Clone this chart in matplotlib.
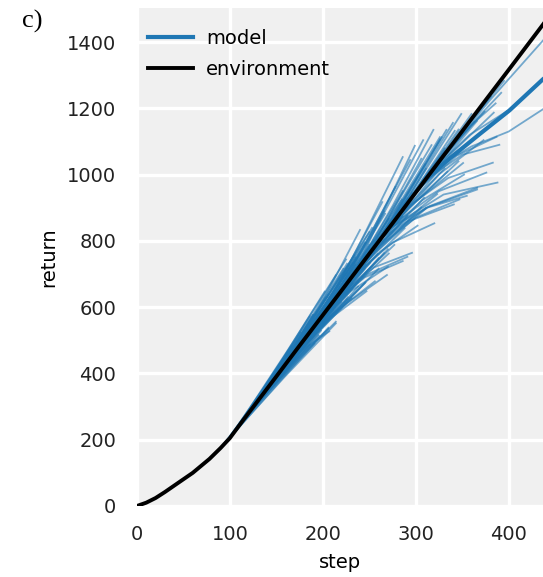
import matplotlib.pyplot as plt

# environment return curve
env_step = [0, 10, 20, 30, 46, 60, 78, 90, 100, 114, 130, 150, 175, 200, 225,
            250, 275, 300, 325, 350, 375, 400, 437, 445]
env_return = [0, 10, 24, 42, 73, 100, 142, 175, 205, 258, 317, 391, 484, 576, 668,
              761, 853, 946, 1039, 1131, 1224, 1316, 1453, 1483]

# model rollouts branching off the environment curve (start, middle, end)
rollout_steps = [
    [90, 120, 150], [94, 134, 174], [98, 133, 168], [102, 147, 192], [106, 138, 171],
    [110, 152, 195], [114, 151, 189], [118, 165, 213], [122, 152, 182], [126, 166, 206],
    [130, 165, 200], [134, 179, 224], [138, 170, 203], [142, 184, 227], [146, 183, 221],
    [150, 197, 245], [154, 184, 214], [158, 198, 238], [162, 197, 232], [166, 211, 256],
    [170, 202, 235], [174, 216, 259], [178, 215, 253], [182, 229, 277], [186, 216, 246],
    [190, 230, 270], [194, 229, 264], [198, 243, 288], [202, 234, 267], [206, 248, 291],
    [210, 247, 285], [214, 261, 309], [218, 248, 278], [222, 262, 302], [226, 261, 296],
    [230, 275, 320], [234, 266, 299], [238, 280, 323], [242, 279, 317], [246, 293, 341],
    [250, 280, 310], [254, 294, 334], [258, 293, 328], [262, 307, 352], [266, 298, 331],
    [270, 312, 355], [274, 311, 349], [278, 325, 373], [282, 312, 342], [256, 311, 366],
    [290, 325, 360], [294, 339, 384], [298, 330, 363], [302, 344, 387], [306, 343, 381],
    [310, 350, 390], [314, 344, 374], [318, 358, 398], [322, 357, 392], [330, 362, 395],
    [334, 360, 386],
    # close to the environment
    [96, 123.5, 151], [101, 136, 171], [106, 136, 166], [111, 148.5, 186], [116, 143.5, 171],
    [121, 156, 191], [126, 156, 186], [131, 168.5, 206], [136, 163.5, 191], [141, 176, 211],
    [146, 176, 206], [151, 188.5, 226], [156, 183.5, 211], [161, 196, 231], [166, 196, 226],
    [171, 208.5, 246], [176, 203.5, 231], [181, 216, 251], [186, 216, 246], [191, 228.5, 266],
    [196, 223.5, 251], [201, 236, 271], [206, 236, 266], [211, 248.5, 286], [216, 243.5, 271],
    [221, 256, 291], [226, 256, 286], [231, 268.5, 306], [236, 263.5, 291], [241, 276, 311],
    [246, 276, 306], [251, 288.5, 326], [256, 283.5, 311], [261, 296, 331], [266, 296, 326],
    [271, 308.5, 346], [276, 303.5, 331], [281, 316, 351], [286, 316, 346], [291, 328.5, 366],
    # early fan
    [96, 136, 176], [96, 151, 206], [100, 145, 190], [100, 162.5, 225], [104, 159, 214],
    [104, 144, 184], [108, 168, 228], [108, 153, 198], [112, 157, 202], [112, 172, 232],
    [116, 156, 196], [116, 176, 236], [120, 170, 220], [120, 155, 190], [124, 179, 234],
    [124, 169, 214], [128, 168, 208], [128, 183, 238], [132, 177, 222], [132, 172, 212],
    [136, 191, 246], [136, 181, 226], [140, 185, 230], [140, 195, 250], [145, 190, 235],
    [145, 200, 255], [150, 195, 240], [150, 205, 260], [155, 200, 245], [155, 195, 235],
    [160, 205, 250], [160, 210, 260], [165, 210, 255], [165, 205, 245], [170, 215, 260],
    [170, 220, 270],
    # far below the environment
    [160, 185, 207], [170, 210, 247], [180, 225, 269], [205, 245, 286], [215, 255, 296],
    [250, 300, 347], [262, 315, 366], [272, 325, 376], [270, 330, 388], [285, 335, 383],
    # far above the environment
    [200, 243, 286], [210, 252, 294], [220, 264, 308], [230, 275, 319], [240, 283, 326],
    [250, 292, 333], [255, 298, 340], [170, 205, 240],
    # long ones reaching the right edge
    [320, 360, 400, 445], [330, 380, 445],
]
rollout_returns = [
    [175, 285, 402], [187, 328, 468], [199, 340, 482], [212, 371, 520], [228, 350, 472],
    [245, 386, 516], [258, 417, 576], [273, 440, 599], [288, 410, 532], [302, 428, 535],
    [317, 453, 590], [332, 491, 644], [347, 488, 629], [362, 503, 630], [376, 518, 660],
    [391, 542, 672], [406, 551, 696], [421, 554, 675], [436, 584, 732], [450, 580, 678],
    [465, 597, 728], [480, 626, 761], [495, 667, 839], [510, 660, 788], [524, 640, 756],
    [539, 648, 722], [554, 735, 917], [569, 713, 838], [584, 733, 882], [598, 699, 752],
    [613, 769, 925], [628, 787, 930], [643, 803, 963], [658, 768, 846], [672, 809, 945],
    [687, 795, 853], [702, 894, 1087], [717, 843, 941], [732, 910, 1089], [746, 860, 910],
    [761, 896, 1031], [776, 902, 1009], [791, 952, 1113], [806, 923, 1000], [820, 945, 1070],
    [835, 900, 936], [850, 1016, 1183], [865, 1001, 1104], [880, 1006, 1132], [783, 900, 955],
    [909, 1046, 1183], [924, 1066, 1187], [939, 1052, 1159], [954, 1057, 1114], [968, 1104, 1236],
    [983, 1060, 1090], [998, 1099, 1190], [1013, 1120, 1191], [1028, 1143, 1247], [1057, 1172, 1283],
    [1072, 1150, 1215],
    [193, 300, 410], [209, 329, 448], [228, 355, 482], [248, 367, 486], [265, 371, 478],
    [284, 387, 490], [302, 437, 572], [321, 452, 583], [339, 441, 562], [358, 474, 591],
    [376, 507, 638], [395, 510, 624], [413, 521, 628], [432, 529, 627], [450, 591, 731],
    [469, 599, 728], [487, 601, 714], [506, 620, 734], [524, 659, 794], [543, 653, 763],
    [561, 670, 778], [580, 671, 762], [598, 744, 889], [617, 745, 873], [635, 751, 866],
    [654, 765, 876], [672, 811, 950], [691, 796, 901], [709, 819, 928], [728, 813, 898],
    [746, 897, 1048], [765, 892, 1018], [783, 891, 1018], [802, 910, 1019], [820, 963, 1106],
    [839, 940, 1040], [857, 968, 1079], [876, 955, 1035], [894, 1015, 1136], [913, 1038, 1162],
    [193, 355, 523], [193, 368, 538], [205, 361, 512], [205, 471, 744], [220, 390, 551],
    [220, 378, 537], [235, 480, 728], [235, 384, 529], [250, 445, 647], [250, 462, 671],
    [265, 391, 513], [265, 503, 745], [280, 449, 615], [280, 427, 577], [295, 523, 757],
    [295, 430, 556], [310, 463, 618], [310, 488, 662], [325, 517, 716], [325, 464, 601],
    [339, 511, 675], [339, 520, 703], [354, 517, 678], [354, 588, 827], [373, 521, 666],
    [373, 586, 802], [391, 576, 764], [391, 558, 716], [410, 564, 716], [410, 578, 750],
    [428, 607, 788], [428, 591, 748], [447, 605, 762], [447, 618, 795], [465, 636, 807],
    [465, 623, 775],
    [428, 485, 527], [465, 570, 648], [502, 610, 697], [594, 690, 739], [631, 720, 764],
    [761, 870, 925], [806, 905, 960], [843, 950, 1006], [835, 940, 976], [890, 990, 1036],
    [576, 810, 1053], [613, 825, 1044], [650, 875, 1104], [687, 905, 1135], [724, 915, 1113],
    [761, 945, 1135], [780, 965, 1156], [465, 645, 833],
    [1020, 1085, 1130, 1212], [1057, 1225, 1430],
]

# long model rollout drawn thick
model_step = [310, 337, 370, 401, 437, 445]
model_return = [983, 1050, 1125, 1194, 1288, 1305]

blue = "#1f77b4"

fig = plt.figure(figsize=(5.43, 5.77), dpi=100)
ax = fig.add_axes([0.2523, 0.1231, 0.7477, 0.8631])
ax.set_facecolor("#f0f0f0")
for s in ax.spines.values():
    s.set_visible(False)
ax.grid(True, color="white", linewidth=2.4)
ax.set_axisbelow(True)

for xs, ys in zip(rollout_steps, rollout_returns):
    ax.plot(xs, ys, color=blue, alpha=0.6, linewidth=1.3)
ax.plot(model_step, model_return, color=blue, linewidth=3, label="model")
ax.plot(env_step, env_return, color="black", linewidth=2.8, label="environment")

ax.set_xlim(0, 437)
ax.set_ylim(0, 1503)
ax.set_xticks([0, 100, 200, 300, 400])
ax.set_yticks([0, 200, 400, 600, 800, 1000, 1200, 1400])
ax.tick_params(axis="both", length=0, labelsize=14, colors="#222222")
ax.tick_params(axis="x", pad=14)
ax.tick_params(axis="y", pad=15)
ax.set_xlabel("step", fontsize=14, labelpad=6)
ax.set_ylabel("return", fontsize=14, labelpad=6)

ax.legend(loc="upper left", bbox_to_anchor=(0.027, 0.958), frameon=False,
          fontsize=14, handlelength=2.3, handletextpad=0.7,
          labelspacing=0.62, borderpad=0, borderaxespad=0)

fig.text(0.04, 0.962, "c)", family="Liberation Serif", fontsize=19,
         va="center", ha="left")

fig.savefig("out.png", dpi=100)
